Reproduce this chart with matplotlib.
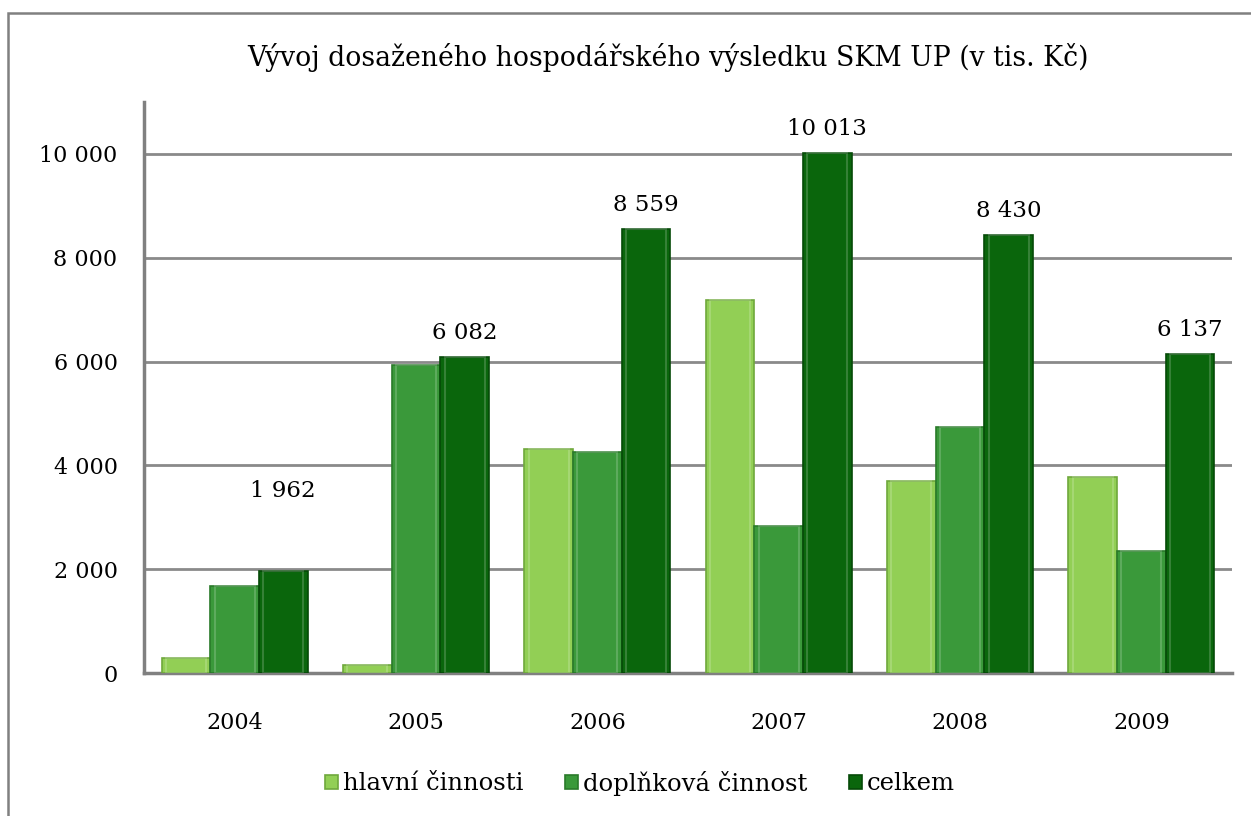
import numpy as np
import matplotlib
matplotlib.use("Agg")
import matplotlib.pyplot as plt
import matplotlib.ticker as mticker
from matplotlib.patches import Rectangle

# ---------------------------------------------------------------------------
# Data (tis. Kč)
# ---------------------------------------------------------------------------
years = ["2004", "2005", "2006", "2007", "2008", "2009"]
hlavni = [290, 150, 4310, 7190, 3700, 3780]
doplnkova = [1672, 5932, 4249, 2823, 4730, 2357]
celkem = [1962, 6082, 8559, 10013, 8430, 6137]

series_names = ["hlavní činnosti", "doplňková činnost", "celkem"]
colors = ["#92cf55", "#3a993a", "#0a660c"]
edge_colors = ["#6fa83c", "#2a7a2a", "#064a08"]

# vertical offset (points) for the value labels above "celkem"
label_offsets = [50, 9.5, 9.5, 9.5, 9.5, 9.5]

plt.rcParams["font.family"] = ["DejaVu Serif"]

fig = plt.figure(figsize=(12.51, 8.16), dpi=100)
ax = fig.add_axes([144 / 1251, 1 - 673 / 816, (1232 - 144) / 1251, (673 - 102) / 816])

x = np.arange(len(years))
width = 0.268
all_series = [hlavni, doplnkova, celkem]
for i, (vals, name) in enumerate(zip(all_series, series_names)):
    ax.bar(x + (i - 1) * width, vals, width, color=colors[i],
           edgecolor=edge_colors[i], linewidth=1.2, label=name, zorder=3)
    # soft bevel highlight
    ax.bar(x + (i - 1) * width, vals, width * 0.82, color="none",
           edgecolor=(1, 1, 1, 0.18), linewidth=1.5, zorder=4)

for xi, v, off in zip(x, celkem, label_offsets):
    ax.annotate(f"{v:,.0f}".replace(",", " "), (xi + width, v),
                xytext=(0, off), textcoords="offset points",
                ha="center", va="bottom", fontsize=16.5)

ax.set_xlim(-0.5, len(years) - 0.5)
ax.set_ylim(0, 11000)
ax.set_yticks(np.arange(0, 10001, 2000))
ax.yaxis.set_major_formatter(
    mticker.FuncFormatter(lambda v, _: f"{v:,.0f}".replace(",", " ")))
ax.set_xticks(x)
ax.set_xticklabels(years)
ax.tick_params(axis="both", length=0, labelsize=16)
ax.tick_params(axis="x", pad=28)
ax.tick_params(axis="y", pad=19)

ax.grid(axis="y", color="#8a8a8a", linewidth=2, zorder=0)
ax.set_axisbelow(True)
for s in ["top", "right"]:
    ax.spines[s].set_visible(False)
for s in ["left", "bottom"]:
    ax.spines[s].set_color("#808080")
    ax.spines[s].set_linewidth(2.5)

fig.text(668 / 1251, 1 - 58 / 816,
         "Vývoj dosaženého hospodářského výsledku SKM UP (v tis. Kč)",
         ha="center", va="center", fontsize=19.2)

handles, labels = ax.get_legend_handles_labels()
fig.legend(handles[:3], labels[:3], loc="center", ncol=3,
           bbox_to_anchor=(640 / 1251, 1 - 783 / 816), frameon=False,
           fontsize=17.5, handlelength=0.55, handleheight=0.55,
           handletextpad=0.2, columnspacing=1.7)

# outer chart frame (left and top edges visible)
fig.patches.append(Rectangle((8 / 1251, -0.5), 2.0, 1.5 - 13 / 816,
                             transform=fig.transFigure, fill=False,
                             edgecolor="#808080", linewidth=1.8))

fig.savefig("out.png", dpi=100, facecolor="white")
